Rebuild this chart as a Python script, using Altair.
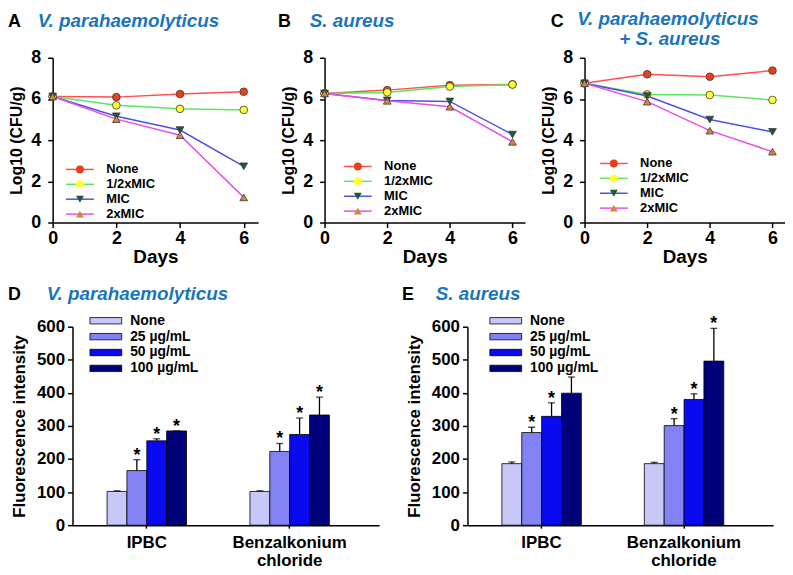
import altair as alt
import pandas as pd

FONT = "Liberation Sans"
TITLE_BLUE = "#1b75bc"

# ---------------- line panels data ----------------
days = [0, 2, 4, 6]
treatments = ["None", "1/2xMIC", "MIC", "2xMIC"]

a_none = [6.12, 6.09, 6.24, 6.35]
a_half = [6.12, 5.69, 5.52, 5.47]
a_mic = [6.12, 5.16, 4.49, 2.73]
a_2mic = [6.12, 5.02, 4.24, 1.22]

b_none = [6.27, 6.43, 6.67, 6.71]
b_half = [6.27, 6.32, 6.60, 6.70]
b_mic = [6.27, 5.93, 5.88, 4.27]
b_2mic = [6.27, 5.91, 5.62, 3.92]

c_none = [6.76, 7.20, 7.08, 7.38]
c_half = [6.76, 6.22, 6.19, 5.95]
c_mic = [6.76, 6.14, 5.00, 4.40]
c_2mic = [6.76, 5.87, 4.46, 3.44]

line_colors = ["#ff5050", "#5ce65c", "#5050e6", "#e650e6"]
marker_fills = ["#e8401c", "#ffff33", "#1e5a34", "#d9843a"]
marker_shapes = ["circle", "circle", "triangle-down", "triangle-up"]

# ---------------- bar panels data ----------------
agents = ["IPBC", "Benzalkonium chloride"]
concs = ["None", "25 µg/mL", "50 µg/mL", "100 µg/mL"]
bar_colors = ["#c8c8f8", "#8282f5", "#0a0af0", "#000078"]
bar_ticks = [0, 100, 200, 300, 400, 500, 600]

d_ipbc_mean = [102, 165, 255, 285]
d_ipbc_err = [2, 33, 6, 0]
d_ipbc_sig = ["", "*", "*", "*"]
d_benz_mean = [102, 223, 274, 333]
d_benz_err = [2, 24, 50, 54]
d_benz_sig = ["", "*", "*", "*"]

e_ipbc_mean = [186, 280, 329, 399]
e_ipbc_err = [5, 16, 41, 49]
e_ipbc_sig = ["", "*", "*", ""]
e_benz_mean = [186, 301, 380, 496]
e_benz_err = [4, 21, 17, 99]
e_benz_sig = ["", "*", "*", "*"]


def text_layer(txt, x, y, size=19, italic=False, color="black", align="left"):
    return alt.Chart(pd.DataFrame({"t": [txt]})).mark_text(
        align=align, baseline="alphabetic", fontSize=size, fontWeight="bold",
        fontStyle="italic" if italic else "normal", color=color, font=FONT,
    ).encode(text="t:N", x=alt.value(x), y=alt.value(y))


def line_panel(series, letter, letter_x, title_layers, width, xmax, leg_x, leg_y, height=166):
    rows = []
    for t, vals in zip(treatments, series):
        for d, v in zip(days, vals):
            rows.append({"day": d, "treatment": t, "series": t, "value": v})
    df = pd.DataFrame(rows)
    x = alt.X("day:Q", scale=alt.Scale(domain=[0, xmax], nice=False, zero=False),
              axis=alt.Axis(values=days, format="d", title="Days", titleFontSize=19,
                            labelFontSize=18, tickSize=5, labelPadding=2, titlePadding=0,
                            domainWidth=1.5, tickWidth=1.5, labelFlush=False))
    y = alt.Y("value:Q", scale=alt.Scale(domain=[0, 8], nice=False),
              axis=alt.Axis(values=[0, 2, 4, 6, 8], title="Log10 (CFU/g)", titleFontSize=16,
                            labelFontSize=18, tickSize=5, labelPadding=7, titlePadding=6,
                            domainWidth=1.5, tickWidth=1.5, labelOverlap=False))
    common = dict(orient="none", legendX=leg_x + 10, legendY=leg_y, title=None,
                  symbolSize=64, labelFontSize=13, labelFontWeight="bold", labelFont=FONT,
                  labelOffset=20, rowPadding=1, labelColor="black")
    base = alt.Chart(df)
    # line colours: data-derived (sorted) domain so this legend stays separate
    lines = base.mark_line(strokeWidth=1.5).encode(
        x=x, y=y,
        color=alt.Color("series:N", sort=treatments,
                        scale=alt.Scale(range=line_colors),
                        legend=alt.Legend(symbolType="M-3.5,0H3.5", symbolStrokeWidth=1.5,
                                          **common)),
    )
    leg2 = alt.Legend(symbolStrokeColor="#3a3a3a", symbolStrokeWidth=0.8, labelOpacity=0,
                      **common)
    pts = base.mark_point(filled=True, size=60, stroke="#3a3a3a", strokeWidth=0.8,
                          opacity=1).encode(
        x=x, y=y,
        fill=alt.Fill("treatment:N", sort=treatments,
                      scale=alt.Scale(domain=treatments, range=marker_fills), legend=leg2),
        shape=alt.Shape("treatment:N", sort=treatments,
                        scale=alt.Scale(domain=treatments, range=marker_shapes), legend=leg2),
    )
    layers = [lines, pts, text_layer(letter, letter_x, -31, size=18)] + title_layers
    return alt.layer(*layers).properties(width=width, height=height)


def bar_panel(ipbc_mean, ipbc_err, ipbc_sig, benz_mean, benz_err, benz_sig,
              letter, letter_x, title, title_x, width, legend_x):
    rows = []
    for agent, means, errs, sigs in [("IPBC", ipbc_mean, ipbc_err, ipbc_sig),
                                     ("Benzalkonium chloride", benz_mean, benz_err, benz_sig)]:
        for c, m, e, s in zip(concs, means, errs, sigs):
            rows.append({"agent": agent, "conc": c, "mean": m, "top": m + e, "sig": s})
    df = pd.DataFrame(rows)
    x = alt.X("agent:N", sort=agents,
              scale=alt.Scale(paddingInner=0.444, paddingOuter=0.295, align=0.41),
              axis=alt.Axis(title=None, labelAngle=0, labelFontSize=17,
                            labelExpr="split(datum.label, ' ')", labelLineHeight=19,
                            tickSize=3, labelPadding=6, domainWidth=1.5, tickWidth=1.5))
    xo = alt.XOffset("conc:N", sort=concs, scale=alt.Scale(paddingInner=0, paddingOuter=0))
    yscale = alt.Scale(domain=[0, 600], nice=False)
    yaxis = alt.Axis(values=bar_ticks, title="Fluorescence intensity", titleFontSize=17,
                     labelFontSize=17, tickSize=5, labelPadding=3, titlePadding=8,
                     domainWidth=1.5, tickWidth=1.5, labelOverlap=False, tickCount=7)
    y_mean = alt.Y("mean:Q", scale=yscale, axis=yaxis)
    y_top = alt.Y("top:Q", scale=yscale, axis=yaxis)
    base = alt.Chart(df)
    bars = base.mark_bar(stroke="black", strokeWidth=0.8).encode(
        x=x, xOffset=xo, y=y_mean,
        fill=alt.Fill("conc:N", sort=concs, scale=alt.Scale(domain=concs, range=bar_colors),
                      legend=alt.Legend(orient="none", legendX=legend_x + 9.6, legendY=-13,
                                        title=None, symbolType="M-2.5,-0.5H2.5V0.5H-2.5Z",
                                        symbolSize=164, symbolStrokeColor="black",
                                        symbolStrokeWidth=0.8, labelFontSize=14,
                                        labelFontWeight="bold", labelFont=FONT,
                                        labelOffset=17.5, rowPadding=2, labelColor="black")),
    )
    err = base.mark_rule(color="black", strokeWidth=1.3).encode(
        x=x, xOffset=xo, y=y_mean, y2="top:Q")
    cap = base.mark_tick(color="black", thickness=1.3, size=7).encode(
        x=x, xOffset=xo, y=y_top)
    star = base.mark_text(fontSize=18, fontWeight="bold", baseline="alphabetic", dy=1,
                          color="black", font=FONT).encode(
        x=x, xOffset=xo, y=y_top, text="sig:N")
    return alt.layer(bars, err, cap, star,
                     text_layer(letter, letter_x, -27, size=18),
                     text_layer(title, title_x, -27, italic=True, color=TITLE_BLUE)
                     ).properties(width=width, height=200)


panel_a = line_panel([a_none, a_half, a_mic, a_2mic], "A", -45,
                     [text_layer("V. parahaemolyticus", -15, -31, italic=True, color=TITLE_BLUE)],
                     207, 6.45, 11, 106)
panel_b = line_panel([b_none, b_half, b_mic, b_2mic], "B", -47,
                     [text_layer("S. aureus", -15, -31, italic=True, color=TITLE_BLUE)],
                     202, 6.4, 17, 103)
panel_c = line_panel([c_none, c_half, c_mic, c_2mic], "C", -34,
                     [text_layer("V. parahaemolyticus", 84, -33, italic=True, color=TITLE_BLUE,
                                 align="center"),
                      text_layer("+ S. aureus", 86, -13, italic=True, color=TITLE_BLUE,
                                 align="center")],
                     202, 6.4, 13, 100)

panel_d = bar_panel(d_ipbc_mean, d_ipbc_err, d_ipbc_sig, d_benz_mean, d_benz_err, d_benz_sig,
                    "D", -65, "V. parahaemolyticus", -26, 309, 17)
panel_e = bar_panel(e_ipbc_mean, e_ipbc_err, e_ipbc_sig, e_benz_mean, e_benz_err, e_benz_sig,
                    "E", -66, "S. aureus", -32, 308, 22)

# empty 1x1 anchor so the bottom row is not origin-aligned with panel A
anchor = alt.Chart(pd.DataFrame({"d": [0]})).mark_point(opacity=0, size=0).properties(
    width=1, height=1)

res = dict(color="independent", fill="independent", shape="independent")

top_row = alt.concat(
    alt.concat(panel_a, panel_b, columns=2, spacing=20).resolve_scale(**res),
    panel_c, columns=2, spacing=15).resolve_scale(**res)
bottom_row = alt.concat(
    anchor,
    alt.concat(panel_d, panel_e, columns=2, spacing=23).resolve_scale(**res),
    columns=2, spacing=-46).resolve_scale(**res)

chart = alt.concat(top_row, bottom_row, columns=1, spacing=19).resolve_scale(**res).properties(
    padding=0
).configure(font=FONT).configure_view(stroke=None).configure_axis(
    domainColor="black", tickColor="black", labelColor="black", titleColor="black",
    grid=False, labelFontWeight="bold", titleFontWeight="bold", labelFont=FONT,
    titleFont=FONT
)

chart.save("out.html", embed_options={"renderer": "svg", "actions": False})
